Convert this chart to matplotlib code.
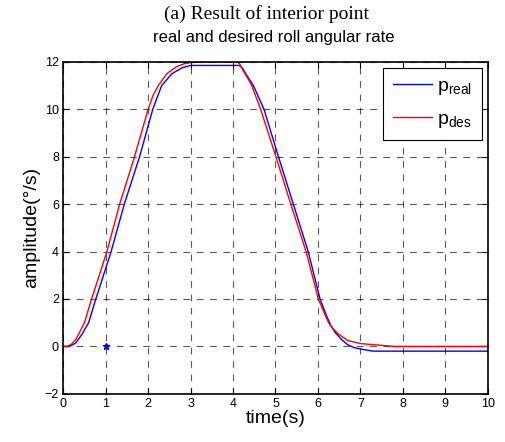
import matplotlib
matplotlib.use("Agg")
import matplotlib.pyplot as plt

# desired roll rate (red)
t_des = [0, 0.1, 0.2, 0.3, 0.36, 0.5, 0.67, 0.85, 1.03, 1.33, 1.68, 2.0, 2.12, 2.24,
         2.44, 2.67, 2.85, 3.0, 3.3, 4.1, 4.16, 4.25, 4.35, 4.44, 4.65, 5.01, 5.36,
         5.72, 6.01, 6.15, 6.25, 6.35, 6.5, 6.7, 7.0, 7.4, 7.8, 10]
p_des = [0, 0, 0.1, 0.3, 0.5, 1, 2, 3, 4, 6, 8, 10, 10.6, 11,
         11.5, 11.8, 11.92, 11.97, 12, 12, 11.9, 11.6, 11.3, 11, 10, 8, 6,
         4, 2, 1.4, 1.0, 0.75, 0.5, 0.25, 0.12, 0.06, 0, 0]

# real roll rate (blue)
t_real = [0, 0.15, 0.3, 0.44, 0.6, 0.77, 0.95, 1.13, 1.44, 1.8, 2.11, 2.32, 2.56,
          2.8, 3.0, 4.15, 4.22, 4.3, 4.48, 4.73, 5.07, 5.42, 5.77, 6.05, 6.2, 6.3,
          6.4, 6.55, 6.7, 6.85, 7.0, 7.3, 10]
p_real = [0, 0, 0.15, 0.5, 1, 2, 3, 4, 6, 8, 10, 11, 11.5,
          11.75, 11.85, 11.85, 11.75, 11.5, 11, 10, 8, 6, 4, 2, 1.3, 0.9,
          0.6, 0.3, 0.07, -0.05, -0.11, -0.2, -0.2]

marker_t = [1]
marker_p = [0]

xticks = list(range(0, 11))
yticks = list(range(-2, 13, 2))

sans = "Liberation Sans"
serif = "Liberation Serif"

fig = plt.figure(figsize=(5.05, 4.42), dpi=100)
ax = fig.add_axes([0.125, 0.109, 0.841, 0.751])

ax.plot(t_real, p_real, color="blue", lw=1.0, label=r"$\mathregular{p_{real}}$")
ax.plot(t_des, p_des, color="red", lw=1.0, label=r"$\mathregular{p_{des}}$")
ax.plot(marker_t, marker_p, color="blue", marker="*", ms=5, ls="none")

ax.set_xlim(0, 10)
ax.set_ylim(-2, 12)
ax.set_xticks(xticks)
ax.set_yticks(yticks)
ax.tick_params(direction="in", top=True, right=True, length=4, labelsize=9, pad=3)
for lab in ax.get_xticklabels() + ax.get_yticklabels():
    lab.set_family(sans)
ax.grid(True, color="black", ls=(0, (6, 6)), lw=0.8, alpha=0.65)
for sp in ax.spines.values():
    sp.set_linewidth(1.2)

ax.set_xlabel("time(s)", family=sans, fontsize=14, labelpad=0)
ax.set_ylabel("amplitude(°/s)", family=sans, fontsize=14, labelpad=3)

leg = ax.legend(loc="upper right", prop={"family": sans, "size": 14},
                fancybox=False, edgecolor="black", framealpha=1,
                handlelength=2.0, handletextpad=0.3, borderpad=0.5,
                labelspacing=0.7, borderaxespad=0.3)
leg.get_frame().set_linewidth(0.8)

fig.text(0.528, 0.968, "(a) Result of interior point", family=serif,
         fontsize=14, ha="center", va="center")
fig.text(0.542, 0.915, "real and desired roll angular rate", family=sans,
         fontsize=12, ha="center", va="center")

fig.savefig("out.png", dpi=100)
